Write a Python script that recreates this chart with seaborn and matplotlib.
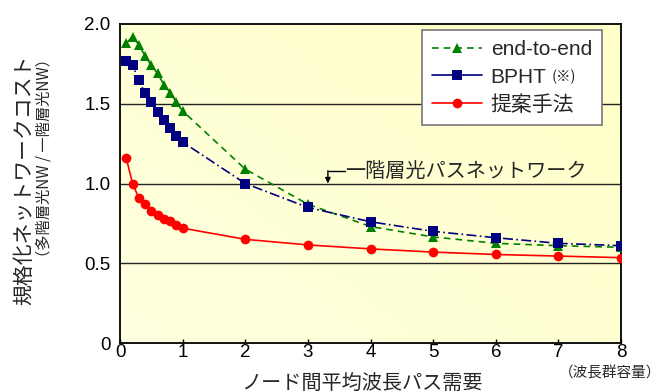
import numpy as np
import pandas as pd
import matplotlib
matplotlib.use("Agg")
import matplotlib.pyplot as plt
import seaborn as sns
from matplotlib.lines import Line2D

# Average wavelength-path demand between nodes (in units of waveband capacity)
demand = [0.1, 0.2, 0.3, 0.4, 0.5, 0.6, 0.7, 0.8, 0.9, 1.0, 2, 3, 4, 5, 6, 7, 8]

# Normalized network cost (multi-layer NW / single-layer NW)
cost_end_to_end = [1.88, 1.92, 1.87, 1.80, 1.74, 1.69, 1.62, 1.57, 1.51, 1.455,
                   1.09, 0.87, 0.73, 0.665, 0.625, 0.61, 0.60]
cost_bpht = [1.77, 1.74, 1.65, 1.565, 1.51, 1.45, 1.40, 1.35, 1.30, 1.26,
             1.00, 0.85, 0.76, 0.70, 0.66, 0.625, 0.61]
cost_proposed = [1.16, 1.00, 0.91, 0.87, 0.83, 0.80, 0.78, 0.765, 0.74, 0.72,
                 0.65, 0.615, 0.59, 0.57, 0.555, 0.545, 0.535]

series_names = ["end-to-end", "BPHT", "提案手法"]
x_ticks = [0, 1, 2, 3, 4, 5, 6, 7, 8]
y_ticks = [0, 0.5, 1.0, 1.5, 2.0]
y_tick_labels = ["0", "0.5", "1.0", "1.5", "2.0"]

df = pd.concat([
    pd.DataFrame({"demand": demand, "cost": cost_end_to_end, "method": series_names[0]}),
    pd.DataFrame({"demand": demand, "cost": cost_bpht, "method": series_names[1]}),
    pd.DataFrame({"demand": demand, "cost": cost_proposed, "method": series_names[2]}),
])

sns.set_theme(style="white")
plt.rcParams["font.family"] = ["Liberation Sans", "Noto Sans CJK JP", "DejaVu Sans"]
plt.rcParams["axes.unicode_minus"] = False
CJK = ["Noto Sans CJK JP", "DejaVu Sans"]

fig = plt.figure(figsize=(6.6, 3.92), dpi=100)
ax = fig.add_axes([120 / 660, 1 - 343 / 392, 501 / 660, 319 / 392])

# soft yellow gradient background
grad = np.linspace(0, 1, 256)
gx, gy = np.meshgrid(grad, grad)
t = 0.55 * gx + 0.45 * gy  # stronger toward the top right
c0 = np.array([1.0, 1.0, 0.88])
c1 = np.array([1.0, 1.0, 0.78])
img = c0[None, None, :] * (1 - t[..., None]) + c1[None, None, :] * t[..., None]
ax.imshow(img, extent=[0, 8, 0, 2], origin="lower", aspect="auto", zorder=0)

palette = {"end-to-end": "#008000", "BPHT": "#000080", "提案手法": "#FF0000"}
markers = {"end-to-end": "^", "BPHT": "s", "提案手法": "o"}
dashes = {"end-to-end": (4, 3), "BPHT": (6, 2, 1, 2), "提案手法": ""}

sns.lineplot(data=df, x="demand", y="cost", hue="method", style="method",
             palette=palette, markers=markers, dashes=dashes,
             markersize=7, markeredgewidth=0, linewidth=1.2,
             ax=ax, legend=False, zorder=3)

for yv in [0.5, 1.0, 1.5]:
    ax.axhline(yv, color="#222222", linewidth=1.0, zorder=1)

ax.set_xlim(0, 8)
ax.set_ylim(0, 2.0)
ax.set_xticks(x_ticks)
ax.set_xticklabels([str(i) for i in x_ticks])
ax.set_yticks(y_ticks)
ax.set_yticklabels(y_tick_labels)
ax.tick_params(axis="both", labelsize=13.5, colors="black", length=3, direction="in",
               bottom=True, left=False, width=1)
ax.tick_params(axis="x", pad=1)
ax.tick_params(axis="y", pad=7)
ax.set_xlabel("")
ax.set_ylabel("")
for s in ax.spines.values():
    s.set_color("black")
    s.set_linewidth(1.3)

# axis titles
fig.text(362 / 660, 1 - 383 / 392, "ノード間平均波長パス需要",
         ha="center", va="center", fontsize=14.5, family=CJK)
fig.text(610 / 660, 1 - 373 / 392, "（波長群容量）", ha="center", va="center",
         fontsize=10.5, family=CJK)
fig.text(24 / 660, 1 - 180 / 392, "規格化ネットワークコスト", rotation=90,
         ha="center", va="center", fontsize=15, family=CJK)
fig.text(44 / 660, 1 - 158 / 392, "（多階層光NW / 一階層光NW）", rotation=90,
         ha="center", va="center", fontsize=11, family=CJK)

# reference line annotation
ax.annotate("", xy=(3.32, 1.0), xytext=(3.32, 1.08),
            arrowprops=dict(arrowstyle="-|>", color="black", lw=1, mutation_scale=8,
                            shrinkA=0, shrinkB=0), zorder=4)
ax.plot([3.32, 3.6], [1.08, 1.08], color="black", lw=1, zorder=4)
ax.text(3.59, 1.075, "一階層光パスネットワーク", ha="left", va="center",
        fontsize=14.5, family=CJK, zorder=4)

# legend
handles = [
    Line2D([], [], color=palette["end-to-end"], marker="^", linestyle=(0, (4, 3)),
           markersize=7, markeredgewidth=0, lw=1.2),
    Line2D([], [], color=palette["BPHT"], marker="s", linestyle="-",
           markersize=7, markeredgewidth=0, lw=1.2),
    Line2D([], [], color=palette["提案手法"], marker="o", linestyle="-",
           markersize=7, markeredgewidth=0, lw=1.2),
]
leg = ax.legend(handles, series_names, loc="upper left",
                bbox_to_anchor=(302 / 501, 1 - 6 / 319), borderaxespad=0,
                frameon=True, fancybox=False, framealpha=1,
                edgecolor="#777777", handlelength=2.4, handletextpad=0.4,
                labelspacing=0.4, borderpad=0.5,
                prop={"family": ["Liberation Sans", "Noto Sans CJK JP"], "size": 15})
leg.get_frame().set_linewidth(1.2)
leg.set_zorder(5)
fig.canvas.draw()
bb = leg.get_texts()[1].get_window_extent()
inv = fig.transFigure.inverted()
x1, _ = inv.transform((bb.x1, bb.y0))
_, yc = inv.transform((bb.x1, (bb.y0 + bb.y1) / 2))
fig.text(x1 + 5 / 660, yc, "(※)", ha="left", va="center", fontsize=10.5,
         family=CJK, zorder=10)

fig.savefig("out.png", dpi=100, facecolor="white")
